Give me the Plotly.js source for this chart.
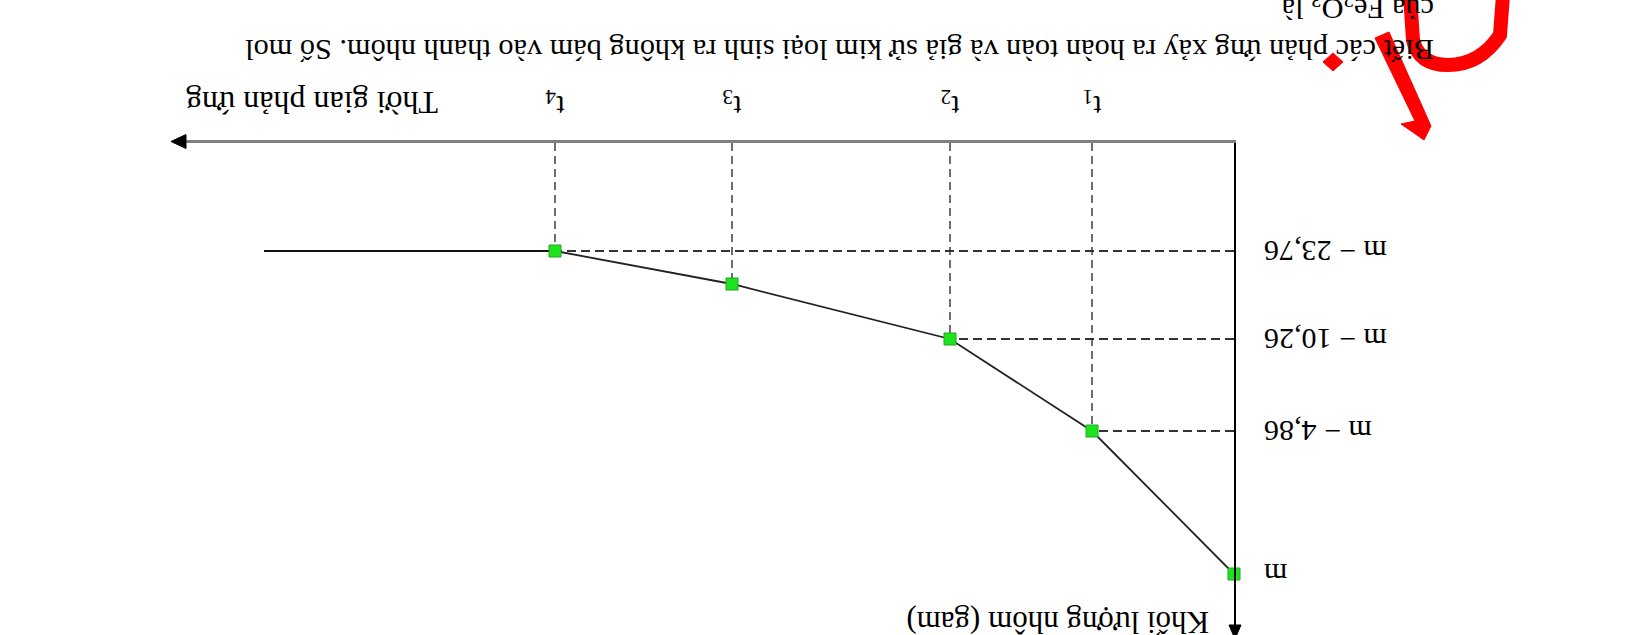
<!DOCTYPE html>
<html>
<head>
<meta charset="utf-8">
<script src="https://cdn.plot.ly/plotly-3.0.1.min.js"></script>
<style>
html, body { margin: 0; padding: 0; overflow: hidden; background: #ffffff; }
#chart { width: 1650px; height: 635px; transform: rotate(180deg); transform-origin: 50% 50%; }
</style>
</head>
<body>
<div id="chart"></div>
<script>
// ---- Data (schematic figure units) ----
const timeLabels = ['t<sub>1</sub>', 't<sub>2</sub>', 't<sub>3</sub>', 't<sub>4</sub>'];
const timeValues = [14.2, 28.4, 50.2, 67.9];
const timeEnd = 97.0;

const massTickLabels = ['m', 'm − 4,86', 'm − 10,26', 'm − 23,76'];
const massTickValues = [43.1, 28.8, 19.6, 10.8];

const massStart = 43.1;
const massValues = [28.8, 19.6, 14.1, 10.8];

const xTitle = 'Thời gian phản ứng';
const yTitle = 'Khối lượng nhôm (gam)';
const noteLine1 = 'Biết các phản ứng xảy ra hoàn toàn và giả sử kim loại sinh ra không bám vào thanh nhôm. Số mol';
const noteLine2 = 'của Fe<sub>2</sub>O<sub>3</sub> là';

// ---- Geometry ----
const W = 1650, H = 635;
const M = { l: 416, r: 173, t: 0, b: 143 };
const plotW = W - M.l - M.r, plotH = H - M.t - M.b;
const xRange = [0, plotW / 10], yRange = [0, plotH / 10];
// normal-frame pixel -> paper
const pX = px => (px - M.l) / plotW;
const pY = py => (H - M.b - py) / plotH;
// reference (upside-down) pixel -> paper
const rX = x => pX(W - x);
const rY = y => pY(H - y);

const FONT = 'Liberation Serif, Times New Roman, serif';

// ---- Traces ----
const vx = [], vy = [];
timeValues.forEach((t, i) => { vx.push(t, t, null); vy.push(0, massValues[i], null); });
const vDash = {
  x: vx, y: vy, mode: 'lines', type: 'scatter', hoverinfo: 'skip', cliponaxis: false,
  line: { color: '#6e6e6e', width: 2, dash: '8px,5px' }, showlegend: false
};

const hx = [], hy = [];
timeValues.forEach((t, i) => {
  if (massTickValues.indexOf(massValues[i]) >= 0) { hx.push(0, t, null); hy.push(massValues[i], massValues[i], null); }
});
const hDash = {
  x: hx, y: hy, mode: 'lines', type: 'scatter', hoverinfo: 'skip', cliponaxis: false,
  line: { color: '#333333', width: 2, dash: '9px,5px' }, showlegend: false
};

const flat = {
  x: [timeValues[timeValues.length - 1], timeEnd],
  y: [massValues[massValues.length - 1], massValues[massValues.length - 1]],
  mode: 'lines', type: 'scatter', hoverinfo: 'skip', cliponaxis: false,
  line: { color: '#111111', width: 2 }, showlegend: false
};

const curve = {
  x: [0].concat(timeValues), y: [massStart].concat(massValues),
  mode: 'lines+markers', type: 'scatter', hoverinfo: 'skip', cliponaxis: false,
  line: { color: '#222222', width: 1.8 },
  marker: { symbol: 'square', size: 12, color: '#1ee41e', line: { color: '#22a822', width: 1 } },
  showlegend: false
};

// ---- Decorations: axis arrow heads and the red marks seen in the reference ----
function normPath(pts) {
  return pts.map((p, i) => (i ? 'L' : 'M') + pX(p[0]).toFixed(5) + ',' + pY(p[1]).toFixed(5)).join(' ') + ' Z';
}
function refPath(pts, close) {
  return pts.map((p, i) => (i ? 'L' : 'M') + rX(p[0]).toFixed(5) + ',' + rY(p[1]).toFixed(5)).join(' ') + (close ? ' Z' : '');
}
const arcPath = 'M' + rX(1410).toFixed(5) + ',' + rY(-5).toFixed(5) +
  ' L' + rX(1413).toFixed(5) + ',' + rY(40).toFixed(5) +
  ' Q' + rX(1419).toFixed(5) + ',' + rY(65).toFixed(5) + ' ' + rX(1448).toFixed(5) + ',' + rY(65).toFixed(5) +
  ' Q' + rX(1480).toFixed(5) + ',' + rY(65).toFixed(5) + ' ' + rX(1500).toFixed(5) + ',' + rY(35).toFixed(5) +
  ' L' + rX(1503).toFixed(5) + ',' + rY(-5).toFixed(5);

const shapes = [
  // x-axis arrow head
  { type: 'path', xref: 'paper', yref: 'paper', path: normPath([[1479, 493.5], [1464, 486.5], [1464, 500.5]]),
    line: { color: '#000', width: 1 }, fillcolor: '#000' },
  // y-axis arrow head
  { type: 'path', xref: 'paper', yref: 'paper', path: normPath([[415, -4], [409, 10], [421, 10]]),
    line: { color: '#000', width: 1 }, fillcolor: '#000' },
  { type: 'path', xref: 'paper', yref: 'paper', path: arcPath, line: { color: '#ff0000', width: 14 }, fillcolor: 'rgba(0,0,0,0)' },
  { type: 'path', xref: 'paper', yref: 'paper',
    path: refPath([[1375, 38], [1389, 32], [1431, 126], [1424, 140], [1401, 124], [1415, 121]], true),
    line: { color: '#ff0000', width: 1 }, fillcolor: '#ff0000' },
  { type: 'path', xref: 'paper', yref: 'paper',
    path: refPath([[1333, 53], [1343, 62], [1333, 71], [1323, 62]], true),
    line: { color: '#ff0000', width: 1 }, fillcolor: '#ff0000' }
];

// ---- Annotations ----
const annotations = [
  { xref: 'paper', yref: 'paper', x: pX(1210), y: pY(532), xanchor: 'left', yanchor: 'middle',
    text: xTitle, showarrow: false, font: { family: FONT, size: 32, color: '#000' } },
  { xref: 'paper', yref: 'paper', x: pX(439), y: pY(13), xanchor: 'left', yanchor: 'middle',
    text: yTitle, showarrow: false, font: { family: FONT, size: 31, color: '#000' } },
  { xref: 'paper', yref: 'paper', x: pX(214), y: pY(585), xanchor: 'left', yanchor: 'middle',
    text: noteLine1, showarrow: false, font: { family: FONT, size: 30.3, color: '#000' } },
  { xref: 'paper', yref: 'paper', x: pX(214), y: pY(628), xanchor: 'left', yanchor: 'middle',
    text: noteLine2, showarrow: false, font: { family: FONT, size: 30.3, color: '#000' } }
];

const layout = {
  width: W, height: H,
  margin: M,
  paper_bgcolor: '#ffffff', plot_bgcolor: '#ffffff',
  showlegend: false,
  font: { family: FONT, size: 30, color: '#000' },
  xaxis: {
    range: xRange, showgrid: false, zeroline: false,
    showline: true, linecolor: '#808080', linewidth: 3,
    tickmode: 'array', tickvals: timeValues, ticktext: timeLabels,
    ticks: '', ticklabelstandoff: 8,
    tickfont: { family: FONT, size: 30, color: '#000' },
    fixedrange: true
  },
  yaxis: {
    range: yRange, showgrid: false, zeroline: false,
    showline: true, linecolor: '#000000', linewidth: 2,
    tickmode: 'array', tickvals: massTickValues, ticktext: massTickLabels,
    ticks: '', ticklabelstandoff: 22,
    tickfont: { family: FONT, size: 30, color: '#000' },
    fixedrange: true
  },
  shapes: shapes,
  annotations: annotations
};

Plotly.newPlot('chart', [vDash, hDash, flat, curve], layout, { displayModeBar: false, staticPlot: true });
</script>
</body>
</html>
